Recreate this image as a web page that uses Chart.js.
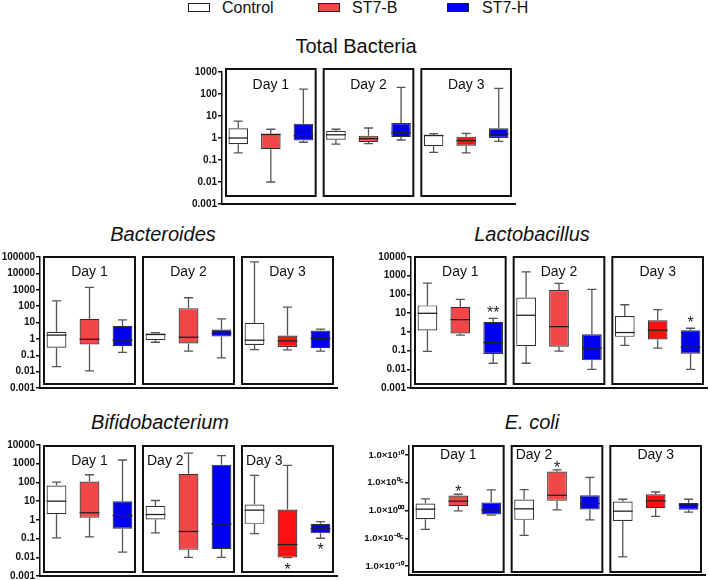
<!DOCTYPE html>
<html>
<head>
<meta charset="utf-8">
<script src="https://cdn.jsdelivr.net/npm/chart.js@4.4.0/dist/chart.umd.min.js"></script>
<style>
  body { margin: 0; width: 709px; height: 580px; position: relative; background: #fff; overflow: hidden;
         font-family: "Liberation Sans", Arial, sans-serif; color: #111; }
  canvas { position: absolute; }
  .title { position: absolute; font-size: 20px; line-height: 20px; white-space: nowrap; transform: translateX(-50%); }
  .title.it { font-style: italic; }
  .key { position: absolute; top: 3px; width: 20px; height: 7px; border: 1.5px solid #222; }
  .keytxt { position: absolute; top: 0px; font-size: 16px; line-height: 16px; }
</style>
</head>
<body>
<span class="key" style="left:188px;background:#fff"></span><span class="keytxt" style="left:222px">Control</span>
<span class="key" style="left:318px;background:#f04848"></span><span class="keytxt" style="left:352px">ST7-B</span>
<span class="key" style="left:447px;background:#0000f0"></span><span class="keytxt" style="left:482px">ST7-H</span>

<div class="title" style="left:356px;top:36px">Total Bacteria</div>
<div class="title it" style="left:163px;top:224px">Bacteroides</div>
<div class="title it" style="left:532px;top:224px">Lactobacillus</div>
<div class="title it" style="left:160px;top:412px">Bifidobacterium</div>
<div class="title it" style="left:532px;top:412px">E. coli</div>

<script>
const days = ['Day 1', 'Day 2', 'Day 3'];
const groups = ['Control', 'ST7-B', 'ST7-H'];

// order: Day1 Control, ST7-B, ST7-H, Day2 ..., Day3 ...
const totalMin = [0.21, 0.01, 0.64, 0.53, 0.55, 0.81, 0.22, 0.21, 0.7];
const totalQ1  = [0.52, 0.31, 0.76, 0.84, 0.66, 1.1, 0.42, 0.45, 1.0];
const totalMed = [1.0, 1.45, 1.28, 1.4, 0.93, 1.75, 1.3, 0.76, 1.52];
const totalQ3  = [2.75, 1.57, 4.5, 2.15, 1.28, 4.8, 1.37, 1.15, 2.75];
const totalMax = [5.9, 2.5, 168, 2.5, 2.85, 200, 1.57, 1.63, 180];

const bactMin = [0.02, 0.011, 0.15, 0.62, 0.18, 0.07, 0.22, 0.21, 0.18];
const bactQ1  = [0.29, 0.45, 0.36, 0.83, 0.52, 1.4, 0.43, 0.32, 0.27];
const bactMed = [1.7, 0.95, 0.87, 1.85, 1.26, 2.2, 0.83, 0.75, 1.05];
const bactQ3  = [2.7, 16.8, 6.2, 2.1, 75, 3.7, 9.5, 1.6, 3.2];
const bactMax = [212, 1390, 14.6, 2.4, 325, 16.8, 51000, 87, 3.9];

const lactoMin = [0.09, 0.67, 0.021, 0.021, 0.094, 0.01, 0.19, 0.135, 0.01];
const lactoQ1  = [1.2, 0.82, 0.065, 0.17, 0.16, 0.03, 0.54, 0.39, 0.068];
const lactoMed = [9.8, 4.5, 0.27, 7.7, 1.9, 0.135, 0.92, 1.23, 0.15];
const lactoQ3  = [26, 22, 3.4, 69, 170, 0.75, 7.1, 4.2, 1.23];
const lactoMax = [400, 54, 5.3, 1600, 385, 185, 28, 15.3, 1.56];

const bifMin = [0.11, 0.123, 0.019, 0.2, 0.01, 0.01, 0.185, 0.0096, 0.104];
const bifQ1  = [2.0, 1.28, 0.34, 1.04, 0.025, 0.027, 0.61, 0.0096, 0.19];
const bifMed = [10, 2.4, 1.7, 1.93, 0.24, 0.61, 3.3, 0.048, 0.33];
const bifQ3  = [69, 113, 10, 5.6, 290, 890, 6.6, 3.6, 0.61];
const bifMax = [104, 257, 1580, 10.8, 3700, 2700, 237, 810, 0.81];

const ecoliMin = [4.0e-4, 0.87, 0.148, 3.5e-5, 1.32, 0.021, 4.7e-9, 0.085, 0.5];
const ecoliQ1  = [0.028, 5.9, 0.195, 0.021, 54, 1.5, 0.0126, 2.6, 1.32];
const ecoliMed = [1.74, 46.8, 1.32, 2.0, 550, 17.8, 0.76, 54, 10];
const ecoliQ3  = [17.8, 479, 26.9, 91, 1.05e7, 550, 40, 832, 23.4];
const ecoliMax = [120, 832, 5000, 5600, 2.1e7, 8.9e5, 105, 2140, 105];

const totalTicks = [0.001, 0.01, 0.1, 1, 10, 100, 1000];
const bactTicks = [0.001, 0.01, 0.1, 1, 10, 100, 1000, 10000, 100000];
const lactoTicks = [0.001, 0.01, 0.1, 1, 10, 100, 1000, 10000];
const bifTicks = [0.001, 0.01, 0.1, 1, 10, 100, 1000, 10000];
const ecoliTicks = [1e-10, 1e-5, 1, 1e5, 1e10];
const ecoliTickLabels = ['1.0×10⁻¹⁰', '1.0×10⁻⁰⁵', '1.0×10⁰⁰', '1.0×10⁰⁵', '1.0×10¹⁰'];

const groupColors = ['#ffffff', '#f04848', '#0000f0'];
const day3Red = '#ff1010';
const FONT = '"Liberation Sans", Arial, sans-serif';

function boxPlugin(p) {
  return {
    id: 'boxPlot',
    beforeDatasetsDraw(chart) {
      const { ctx, chartArea, scales: { x } } = chart;
      const step = x.width / 9;
      const top = chartArea.top + p.frame[0];
      const bottom = chartArea.bottom + p.frame[1];
      ctx.save();
      ctx.strokeStyle = '#111';
      ctx.lineWidth = 2;
      ctx.fillStyle = '#111';
      ctx.font = '14px ' + FONT;
      ctx.textBaseline = 'middle';
      days.forEach((d, k) => {
        const left = chartArea.left + k * 3 * step + 4;
        const right = chartArea.left + (k + 1) * 3 * step - 4;
        ctx.strokeRect(left, top, right - left, bottom - top);
        const align = (p.dayAlign && p.dayAlign[k]) || 'center';
        ctx.textAlign = align;
        ctx.fillText(d, align === 'left' ? left + 4 : (left + right) / 2, top + p.labelOff);
      });
      ctx.restore();
    },
    afterDatasetsDraw(chart) {
      const { ctx, scales: { y } } = chart;
      const bars = chart.getDatasetMeta(0).data;
      ctx.save();
      bars.forEach((bar, i) => {
        const cx = bar.x, half = bar.width / 2, cap = bar.width * 0.23;
        const yMin = y.getPixelForValue(p.min[i]);
        const yQ1 = y.getPixelForValue(p.q1[i]);
        const yQ3 = y.getPixelForValue(p.q3[i]);
        const yMax = y.getPixelForValue(p.max[i]);
        const yMed = y.getPixelForValue(p.med[i]);
        ctx.strokeStyle = '#555';
        ctx.lineWidth = 1.3;
        ctx.beginPath();
        ctx.moveTo(cx, yQ3); ctx.lineTo(cx, yMax);
        ctx.moveTo(cx - cap, yMax); ctx.lineTo(cx + cap, yMax);
        ctx.moveTo(cx, yQ1); ctx.lineTo(cx, yMin);
        ctx.moveTo(cx - cap, yMin); ctx.lineTo(cx + cap, yMin);
        ctx.stroke();
        ctx.strokeStyle = '#222';
        ctx.beginPath();
        ctx.moveTo(cx - half, yMed); ctx.lineTo(cx + half, yMed);
        ctx.stroke();
      });
      ctx.fillStyle = '#222';
      ctx.font = '16px ' + FONT;
      ctx.textAlign = 'center';
      ctx.textBaseline = 'alphabetic';
      (p.marks || []).forEach(m => {
        const bar = bars[m.i];
        const m2 = ctx.measureText(m.text);
        const mid = (m2.actualBoundingBoxAscent - m2.actualBoundingBoxDescent) / 2;
        const yc = m.side === 'top'
          ? y.getPixelForValue(p.max[m.i]) - m.gap
          : y.getPixelForValue(p.min[m.i]) + m.gap;
        ctx.fillText(m.text, bar.x, yc + mid);
      });
      ctx.restore();
    }
  };
}

function drawPanel(p) {
  const padTop = 9, padBottom = 9, padRight = 2;
  const w = p.axisW + (p.area.r - p.area.l) + padRight;
  const h = padTop + (p.area.b - p.area.t) + padBottom;
  const canvas = document.createElement('canvas');
  canvas.width = w; canvas.height = h;
  canvas.style.left = (p.area.l - p.axisW) + 'px';
  canvas.style.top = (p.area.t - padTop) + 'px';
  document.body.appendChild(canvas);

  const colors = p.q1.map((_, i) => (i >= 6 && i % 3 === 1) ? day3Red : groupColors[i % 3]);
  const labels = [];
  days.forEach(d => groups.forEach(g => labels.push(d + ' ' + g)));

  new Chart(canvas, {
    type: 'bar',
    data: {
      labels,
      datasets: [{
        data: p.q1.map((v, i) => [v, p.q3[i]]),
        backgroundColor: colors,
        borderColor: '#333',
        borderWidth: 1.2,
        borderSkipped: false,
        barPercentage: 0.6,
        categoryPercentage: 1
      }]
    },
    options: {
      responsive: false,
      animation: false,
      layout: { padding: { top: padTop, bottom: padBottom, left: 0, right: padRight } },
      plugins: { legend: { display: false }, tooltip: { enabled: false } },
      scales: {
        x: {
          grid: { display: false, drawTicks: false },
          ticks: { display: false },
          border: { color: '#111', width: 2 },
          afterFit: s => { s.height = 0; }
        },
        y: {
          type: 'logarithmic',
          min: p.yMin,
          max: p.yMax,
          afterFit: s => { s.width = p.axisW; },
          afterBuildTicks: s => { s.ticks = p.ticks.map(v => ({ value: v })); },
          ticks: {
            autoSkip: false,
            padding: 1,
            color: '#111',
            font: { family: FONT, size: p.tickSize || 10, weight: 'bold' },
            callback: v => p.tickLabels ? p.tickLabels[p.ticks.indexOf(v)] : String(v)
          },
          grid: { drawOnChartArea: false, color: '#111', lineWidth: 1.5, tickLength: 4 },
          border: { color: '#111', width: 1.5 }
        }
      }
    },
    plugins: [boxPlugin(p)]
  });
}

drawPanel({ area: { l: 222, r: 515, t: 72, b: 204 }, axisW: 45, yMin: 0.001, yMax: 1000,
  ticks: totalTicks, min: totalMin, q1: totalQ1, med: totalMed, q3: totalQ3, max: totalMax,
  frame: [-3, -8], labelOff: 16 });

drawPanel({ area: { l: 40, r: 337, t: 257, b: 388 }, axisW: 40, yMin: 0.001, yMax: 100000,
  ticks: bactTicks, min: bactMin, q1: bactQ1, med: bactMed, q3: bactQ3, max: bactMax,
  frame: [0, -4], labelOff: 15 });

drawPanel({ area: { l: 411, r: 707, t: 257, b: 388 }, axisW: 45, yMin: 0.001, yMax: 10000,
  ticks: lactoTicks, min: lactoMin, q1: lactoQ1, med: lactoMed, q3: lactoQ3, max: lactoMax,
  frame: [0, -4], labelOff: 15,
  marks: [{ i: 2, text: '**', side: 'top', gap: 9 }, { i: 8, text: '*', side: 'top', gap: 9 }] });

drawPanel({ area: { l: 40, r: 337, t: 445, b: 576 }, axisW: 40, yMin: 0.001, yMax: 10000,
  ticks: bifTicks, min: bifMin, q1: bifQ1, med: bifMed, q3: bifQ3, max: bifMax,
  frame: [1, -4], labelOff: 15, dayAlign: ['center', 'left', 'left'],
  marks: [{ i: 7, text: '*', side: 'bottom', gap: 8 }, { i: 8, text: '*', side: 'bottom', gap: 7.5 }] });

drawPanel({ area: { l: 409, r: 705, t: 446, b: 575 }, axisW: 49, yMin: Math.pow(10, -11.6), yMax: Math.pow(10, 11.6),
  ticks: ecoliTicks, tickLabels: ecoliTickLabels, tickSize: 9.5,
  min: ecoliMin, q1: ecoliQ1, med: ecoliMed, q3: ecoliQ3, max: ecoliMax,
  frame: [0, -3], labelOff: 9, dayAlign: ['center', 'left', 'center'],
  marks: [{ i: 1, text: '*', side: 'top', gap: 6 }, { i: 4, text: '*', side: 'top', gap: 5.5 }] });
</script>
</body>
</html>
